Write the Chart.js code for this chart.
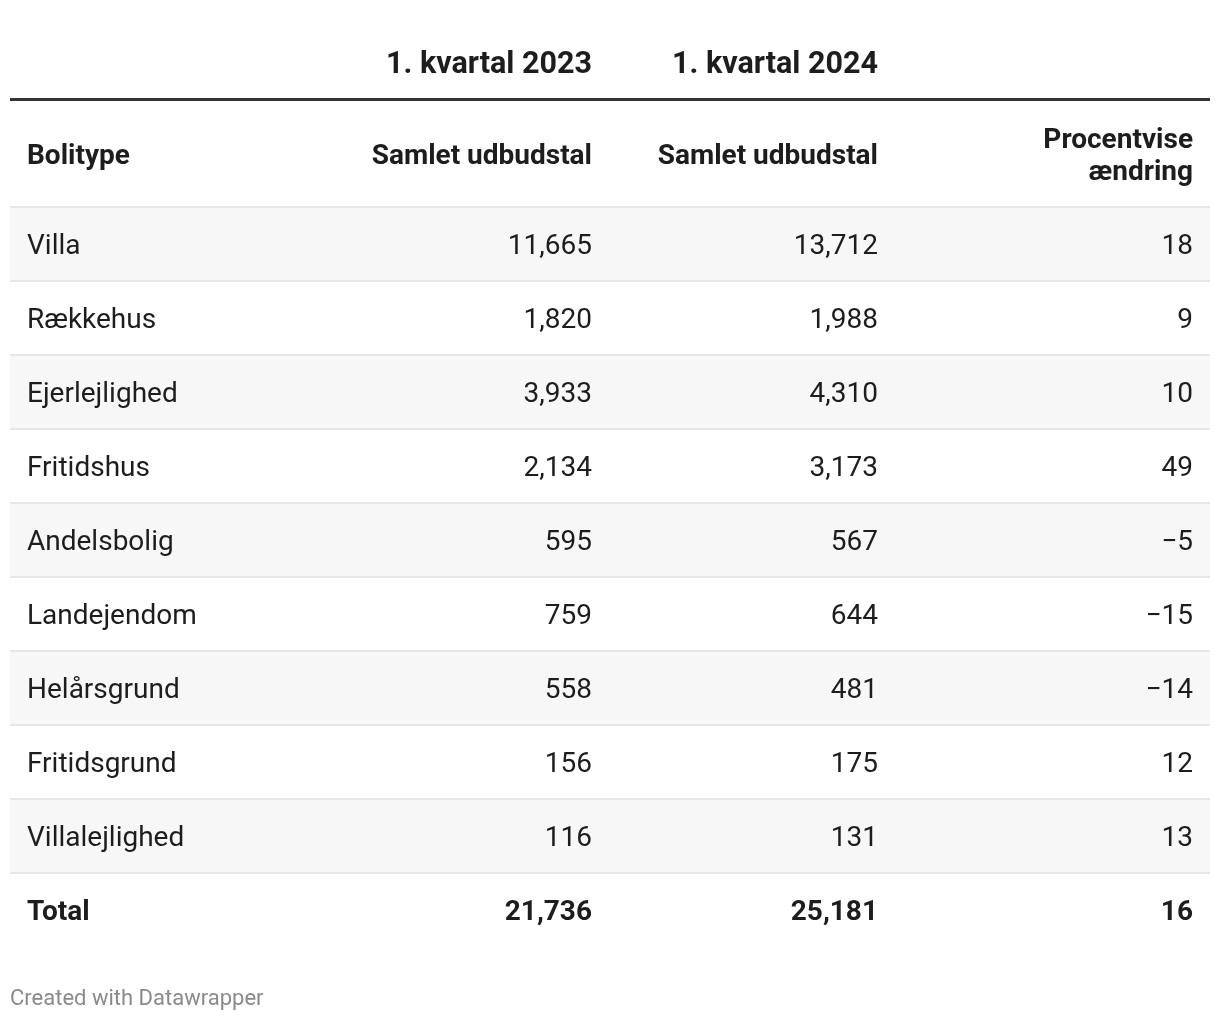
<!DOCTYPE html>
<html>
<head>
<meta charset="utf-8">
<script src="https://cdn.jsdelivr.net/npm/chart.js@4"></script>
<style>
  body { margin: 0; background: #fff; }
</style>
</head>
<body>
<canvas id="myChart" width="1220" height="1022"></canvas>
<script>
// table data
var boligtyper = ["Villa", "Rækkehus", "Ejerlejlighed", "Fritidshus", "Andelsbolig", "Landejendom", "Helårsgrund", "Fritidsgrund", "Villalejlighed", "Total"];
var udbud2023 = [11665, 1820, 3933, 2134, 595, 759, 558, 156, 116, 21736];
var udbud2024 = [13712, 1988, 4310, 3173, 567, 644, 481, 175, 131, 25181];
var aendring = [18, 9, 10, 49, -5, -15, -14, 12, 13, 16];

var periodHeaders = ["1. kvartal 2023", "1. kvartal 2024"];
var columnHeaders = ["Bolitype", "Samlet udbudstal", "Samlet udbudstal", ["Procentvise", "ændring"]];

var textColor = '#1d1d1d';
var fontFam = 'Roboto, "Noto Sans", sans-serif';

function fmtNum(v){
    return v.toLocaleString('en-US');
}
function fmtPct(v){
    return v < 0 ? '\u2212' + Math.abs(v) : String(v);
}

// alternating stripes: every other data row grey, total row white
var stripeColors = boligtyper.map(function(b, i){
    if (i === boligtyper.length - 1) return '#ffffff';
    return i % 2 === 0 ? '#f7f7f7' : '#ffffff';
});

var tablePlugin = {
    id: 'tableText',
    afterDatasetsDraw: function(chart){
        var ctx = chart.ctx;
        var area = chart.chartArea;
        var y = chart.scales.y;
        var band = (area.bottom - area.top) / boligtyper.length;
        // column anchors (left text / right aligned numbers)
        var xLeft = area.left + 17;
        var xCols = [582, 868, 1183].map(function(v){ return area.left + v; });

        ctx.save();
        // row separators
        ctx.fillStyle = '#e6e6e6';
        for (var i = 0; i < boligtyper.length; i++){
            var top = y.getPixelForValue(i) - band / 2;
            ctx.fillRect(area.left, top - 1, area.right - area.left, 2);
        }
        // thick header rule
        ctx.fillStyle = '#333333';
        ctx.fillRect(area.left, area.top - 109, area.right - area.left, 3);

        ctx.fillStyle = textColor;
        ctx.textBaseline = 'middle';

        // period headers
        ctx.font = 'bold 30.5px ' + fontFam;
        ctx.textAlign = 'right';
        ctx.fillText(periodHeaders[0], xCols[0], area.top - 142);
        ctx.fillText(periodHeaders[1], xCols[1], area.top - 142);

        // column headers
        ctx.font = 'bold 28px ' + fontFam;
        ctx.textAlign = 'left';
        ctx.fillText(columnHeaders[0], xLeft, area.top - 50);
        ctx.textAlign = 'right';
        ctx.fillText(columnHeaders[1], xCols[0], area.top - 50);
        ctx.fillText(columnHeaders[2], xCols[1], area.top - 50);
        ctx.fillText(columnHeaders[3][0], xCols[2], area.top - 66);
        ctx.fillText(columnHeaders[3][1], xCols[2], area.top - 34);

        // body rows
        for (var j = 0; j < boligtyper.length; j++){
            var cy = y.getPixelForValue(j) + 3;
            var isTotal = j === boligtyper.length - 1;
            ctx.font = (isTotal ? 'bold ' : '') + '28px ' + fontFam;
            ctx.textAlign = 'left';
            ctx.fillText(boligtyper[j], xLeft, cy);
            ctx.textAlign = 'right';
            ctx.fillText(fmtNum(udbud2023[j]), xCols[0], cy);
            ctx.fillText(fmtNum(udbud2024[j]), xCols[1], cy);
            ctx.fillText(fmtPct(aendring[j]), xCols[2], cy);
        }

        // footer
        ctx.font = '22px ' + fontFam;
        ctx.fillStyle = '#8a8a8a';
        ctx.textAlign = 'left';
        ctx.fillText('Created with Datawrapper', area.left, area.bottom + 52);
        ctx.restore();
    }
};

var ctx = document.getElementById('myChart').getContext('2d');
var chart = new Chart(ctx, {
    type: 'bar',
    data: {
        labels: boligtyper,
        datasets: [{
            label: 'rows',
            data: boligtyper.map(function(){ return [0, 1]; }),
            backgroundColor: stripeColors,
            borderWidth: 0,
            barPercentage: 1,
            categoryPercentage: 1
        }]
    },
    options: {
        indexAxis: 'y',
        responsive: false,
        animation: false,
        devicePixelRatio: 1,
        layout: { padding: { top: 207, bottom: 75, left: 10, right: 10 } },
        scales: {
            x: { type: 'linear', min: 0, max: 1, display: false },
            y: { type: 'category', display: false, offset: true }
        },
        plugins: {
            legend: { display: false },
            tooltip: { enabled: false }
        }
    },
    plugins: [tablePlugin]
});
</script>
</body>
</html>
